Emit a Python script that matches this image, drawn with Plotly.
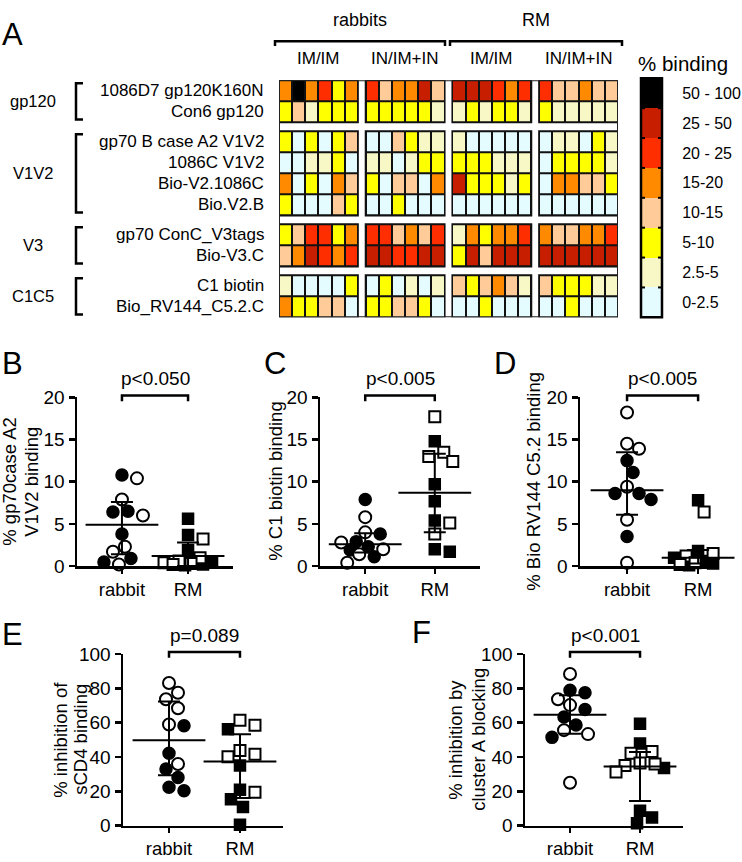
import plotly.graph_objects as go

W, H = 742, 862
FONT = "Liberation Sans, Arial, sans-serif"

# ---------------- DATA ----------------
row_labels = ["1086D7 gp120K160N", "Con6 gp120", "gp70 B case A2 V1V2", "1086C V1V2",
              "Bio-V2.1086C", "Bio.V2.B", "gp70 ConC_V3tags", "Bio-V3.C",
              "C1 biotin", "Bio_RV144_C5.2.C"]
row_groups = ["gp120", "V1V2", "V3", "C1C5"]
row_group_sizes = [2, 4, 2, 2]
species_labels = ["rabbits", "RM"]
regimen_labels = ["IM/IM", "IN/IM+IN", "IM/IM", "IN/IM+IN"]
bin_labels = ["0-2.5", "2.5-5", "5-10", "10-15", "15-20", "20 - 25", "25 - 50", "50 - 100"]
bin_colors = ["#E4FBFF", "#F8F8C6", "#FFFF00", "#FFCC99", "#FF8A00", "#FF2E00", "#C81E00", "#000000"]

# binding category (index into bin_labels) per row; 4 groups x 6 animals
binding_cat = [
    [4, 7, 4, 5, 2, 4,  5, 3, 4, 4, 6, 3,  6, 6, 6, 5, 4, 5,  5, 3, 3, 4, 3, 3],
    [2, 3, 1, 2, 2, 2,  2, 2, 2, 2, 2, 1,  1, 2, 1, 2, 2, 1,  2, 1, 1, 1, 1, 1],
    [2, 0, 2, 0, 2, 3,  0, 0, 3, 2, 1, 1,  1, 0, 0, 0, 0, 0,  0, 1, 1, 0, 2, 1],
    [0, 0, 1, 1, 2, 0,  1, 1, 0, 1, 2, 2,  2, 2, 2, 1, 1, 1,  0, 2, 2, 2, 2, 1],
    [4, 0, 2, 0, 4, 3,  2, 0, 3, 3, 0, 4,  6, 2, 2, 2, 1, 2,  0, 4, 4, 3, 3, 2],
    [2, 0, 0, 0, 3, 2,  0, 0, 2, 0, 0, 0,  0, 0, 0, 0, 0, 0,  0, 0, 0, 0, 0, 0],
    [2, 3, 5, 5, 2, 4,  5, 5, 3, 4, 3, 5,  1, 4, 2, 4, 4, 5,  4, 3, 3, 4, 4, 5],
    [3, 4, 6, 5, 4, 5,  6, 6, 5, 5, 6, 6,  2, 6, 3, 6, 6, 6,  6, 6, 6, 6, 6, 6],
    [1, 0, 0, 0, 0, 2,  0, 2, 0, 1, 0, 1,  3, 2, 3, 4, 3, 1,  3, 2, 2, 2, 1, 1],
    [4, 2, 2, 3, 3, 0,  2, 2, 3, 3, 2, 0,  0, 0, 2, 0, 0, 0,  0, 0, 2, 0, 0, 0],
]

group_names = ["rabbit", "RM"]

# Panel B: % gp70case A2 V1V2 binding
B_rabbit_filled = [10.8, 6.5, 6.4, 3.8, 0.9, 0.5]
B_rabbit_open = [10.4, 7.9, 6.0, 2.3, 1.7, 0.2]
B_RM_filled = [5.6, 3.7, 1.9, 0.4, 0.2, 0.1]
B_RM_open = [3.2, 1.0, 0.6, 0.4, 0.3, 0.2]
B_center = [4.9, 1.2]
B_upper = [7.6, 2.8]
B_lower = [1.4, 0.0]

# Panel C: % C1 biotin binding
C_rabbit_filled = [7.9, 3.8, 2.9, 2.3, 1.9, 1.1]
C_rabbit_open = [5.8, 4.0, 2.8, 2.0, 1.4, 0.4]
C_RM_filled = [14.8, 9.7, 7.7, 5.4, 2.0, 1.7]
C_RM_open = [17.7, 13.5, 13.0, 12.4, 5.1, 3.8]
C_center = [2.6, 8.7]
C_upper = [3.9, 13.3]
C_lower = [1.6, 4.0]

# Panel D: % Bio RV144 C5.2 binding
D_rabbit_filled = [12.5, 11.1, 8.6, 8.6, 7.9, 3.5]
D_rabbit_open = [18.2, 14.5, 13.9, 9.4, 5.5, 0.4]
D_RM_filled = [7.8, 1.8, 1.0, 0.6, 0.3, 0.1]
D_RM_open = [6.4, 1.5, 1.2, 0.8, 0.4, 0.2]
D_center = [9.0, 1.0]
D_upper = [13.5, 1.9]
D_lower = [6.1, 0.3]

# Panel E: % inhibition of sCD4 binding
E_rabbit_filled = [58.2, 42.1, 33.0, 28.0, 22.4, 20.3]
E_rabbit_open = [83.1, 77.4, 73.6, 68.4, 58.9, 35.9]
E_RM_filled = [56.2, 35.0, 20.9, 15.3, 10.9, 0.5]
E_RM_open = [61.3, 58.5, 43.8, 41.6, 40.1, 19.4]
E_center = [49.7, 37.4]
E_upper = [72.3, 53.2]
E_lower = [29.4, 16.1]

# Panel F: % inhibition by cluster A blocking
F_rabbit_filled = [78.9, 77.4, 67.6, 63.3, 58.6, 51.4]
F_rabbit_open = [88.3, 73.6, 70.2, 55.6, 53.3, 25.0]
F_RM_filled = [59.3, 47.8, 33.5, 8.6, 4.8, 1.4]
F_RM_open = [43.1, 42.1, 36.5, 35.9, 35.0, 31.2]
F_center = [64.6, 34.5]
F_upper = [75.9, 42.9]
F_lower = [53.5, 14.3]

# ---------------- HELPERS ----------------
def px_x(p):
    return p / W

def px_y(p):
    return 1 - p / H

def dom_x(a, b):
    return [a / W, b / W]

def dom_y(top, bottom):
    return [1 - bottom / H, 1 - top / H]

fig = go.Figure()
shapes = []
annotations = []

def add_text(text, x, y, size, xanchor="center", yanchor="middle", xref="paper", yref="paper", angle=0):
    annotations.append(dict(text=text, xref=xref, yref=yref, x=x, y=y, xanchor=xanchor,
                            yanchor=yanchor, showarrow=False, textangle=angle,
                            font=dict(size=size, family=FONT, color="black")))

# ---------------- HEATMAP (panel A) ----------------
CELL, XGAP_U, YGAP_U = 1.0, 0.6, 0.42
ncol_groups = 4
x_edges = [0.0]
z_cols = []
for g in range(ncol_groups):
    for c in range(6):
        x_edges.append(x_edges[-1] + CELL)
        z_cols.append(g * 6 + c)
    if g < ncol_groups - 1:
        x_edges.append(x_edges[-1] + XGAP_U)
        z_cols.append(None)
y_edges = [0.0]
z_rows = []
r = 0
for gi, n in enumerate(row_group_sizes):
    for _ in range(n):
        y_edges.append(y_edges[-1] + CELL)
        z_rows.append(r)
        r += 1
    if gi < len(row_group_sizes) - 1:
        y_edges.append(y_edges[-1] + YGAP_U)
        z_rows.append(None)

z = []
for rr in z_rows:
    row = []
    for cc in z_cols:
        row.append(None if (rr is None or cc is None) else binding_cat[rr][cc])
    z.append(row)

nb = len(bin_colors)
colorscale = []
for i, c in enumerate(bin_colors):
    colorscale.append([i / nb, c])
    colorscale.append([(i + 1) / nb, c])

HM_L, HM_R, HM_T, HM_B = 279, 618, 72, 315

fig.add_trace(go.Heatmap(
    z=z, x=x_edges, y=y_edges, xaxis="x", yaxis="y",
    colorscale=colorscale, zmin=-0.5, zmax=nb - 0.5, xgap=2, ygap=2,
    hoverinfo="skip", showscale=False))

col_block_edges = []
for g in range(ncol_groups):
    i0 = g * 7
    col_block_edges.append((x_edges[i0], x_edges[i0 + 6]))
row_block_edges = []
idx = 0
for n in row_group_sizes:
    row_block_edges.append((y_edges[idx], y_edges[idx + n]))
    idx += n + 1
for (xa, xb) in col_block_edges:
    for (ya, yb) in row_block_edges:
        shapes.append(dict(type="rect", xref="x", yref="y", x0=xa, x1=xb, y0=ya, y1=yb,
                           fillcolor="#111111", line=dict(color="#111111", width=2), layer="below"))
shapes.append(dict(type="rect", xref="x", yref="y", x0=x_edges[0], x1=x_edges[-1],
                   y0=y_edges[0], y1=y_edges[-1], line=dict(color="#222222", width=2),
                   fillcolor="rgba(0,0,0,0)", layer="below"))

for i, lab in enumerate(row_labels):
    yi = z_rows.index(i)
    yc = (y_edges[yi] + y_edges[yi + 1]) / 2
    add_text(lab, px_x(266), yc, 17, xanchor="right", yref="y")
for gi, name in enumerate(row_groups):
    ya, yb = row_block_edges[gi]
    add_text(name, px_x(33), (ya + yb) / 2, 16.5, yref="y")
    inset = 0.14
    shapes.append(dict(type="path", xref="paper", yref="y",
                       path=f"M {px_x(83)},{ya + inset} L {px_x(76)},{ya + inset} L {px_x(76)},{yb - inset} L {px_x(83)},{yb - inset}",
                       line=dict(color="black", width=2.5)))

for g, lab in enumerate(regimen_labels):
    xa, xb = col_block_edges[g]
    add_text(lab, (xa + xb) / 2, px_y(50), 17, xref="x")
sp_ranges = [(275, 445), (450, 622)]
for lab, (a, b) in zip(species_labels, sp_ranges):
    add_text(lab, px_x((a + b) / 2), px_y(10), 18)
    shapes.append(dict(type="path", xref="paper", yref="paper",
                       path=f"M {px_x(a)},{px_y(37)} L {px_x(a)},{px_y(32)} L {px_x(b)},{px_y(32)} L {px_x(b)},{px_y(37)}",
                       line=dict(color="black", width=2.5)))

# ---- legend bar (drawn as its own small heatmap) ----
CB_L, CB_R, CB_T, CB_B = 641, 662, 70, 315
fig.add_trace(go.Heatmap(
    z=[[i] for i in range(nb)], x=[0], y=list(range(nb)), xaxis="x7", yaxis="y7",
    colorscale=colorscale, zmin=-0.5, zmax=nb - 0.5, showscale=False, hoverinfo="skip"))
shapes.append(dict(type="rect", xref="paper", yref="paper", x0=px_x(CB_L), x1=px_x(CB_R),
                   y0=px_y(CB_B), y1=px_y(CB_T), line=dict(color="black", width=2.5),
                   fillcolor="rgba(0,0,0,0)"))
for k in range(1, nb):
    yb = CB_T + k * (CB_B - CB_T) / nb
    for (a, b) in [(CB_L, CB_L + 4), (CB_R - 4, CB_R)]:
        shapes.append(dict(type="line", xref="paper", yref="paper", x0=px_x(a), x1=px_x(b),
                           y0=px_y(yb), y1=px_y(yb), line=dict(color="black", width=2)))
add_text("% binding", px_x(636), px_y(55), 20.5, xanchor="left")
add_text("A", 0, px_y(25), 31, xanchor="left")

# ---------------- SCATTER PANELS ----------------
def swarm(values, ppu_x, ppu_y, diam=13.0, step=3.0, maxoff=24.0):
    """Deterministic beeswarm: spread points sideways so markers do not collide."""
    placed = []
    offs = [0.0] * len(values)
    order = sorted(range(len(values)), key=lambda i: -values[i])
    cands = [0.0]
    j = 1
    while j * step <= maxoff:
        cands += [j * step, -j * step]
        j += 1
    for i in order:
        yv = values[i] * ppu_y
        best, best_d = None, -1.0
        for c in cands:
            d = min([((c - px) ** 2 + (yv - py) ** 2) ** 0.5 for px, py in placed] or [1e9])
            if d >= diam:
                best = c
                break
            if d > best_d:
                best, best_d = c, d
        placed.append((best, yv))
        offs[i] = best / ppu_x
    return offs

panels = [
    dict(letter="B", ax="2", xpx=(77, 233), xr=(-0.68, 1.68), ypx=(397, 570), yr=(0, 20), yt=[0, 5, 10, 15, 20],
         data=[(B_rabbit_filled, B_rabbit_open), (B_RM_filled, B_RM_open)],
         center=B_center, upper=B_upper, lower=B_lower, p="p<0.050",
         ytitle=["% gp70case A2", "V1V2 binding"], ytx=[10, 32], lx=0, ly=362),
    dict(letter="C", ax="3", xpx=(320, 480), xr=(-0.65, 1.65), ypx=(397, 570), yr=(0, 20), yt=[0, 5, 10, 15, 20],
         data=[(C_rabbit_filled, C_rabbit_open), (C_RM_filled, C_RM_open)],
         center=C_center, upper=C_upper, lower=C_lower, p="p<0.005",
         ytitle=["% C1 biotin binding"], ytx=[276], lx=262, ly=362),
    dict(letter="D", ax="4", xpx=(580, 718), xr=(-0.662, 1.28), ypx=(397, 570), yr=(0, 20), yt=[0, 5, 10, 15, 20],
         data=[(D_rabbit_filled, D_rabbit_open), (D_RM_filled, D_RM_open)],
         center=D_center, upper=D_upper, lower=D_lower, p="p<0.005",
         ytitle=["% Bio RV144 C5.2 binding"], ytx=[534], lx=492, ly=362),
    dict(letter="E", ax="5", xpx=(123, 283), xr=(-0.648, 1.606), ypx=(660, 836), yr=(0, 100), yt=[0, 20, 40, 60, 80, 100],
         data=[(E_rabbit_filled, E_rabbit_open), (E_RM_filled, E_RM_open)],
         center=E_center, upper=E_upper, lower=E_lower, p="p=0.089",
         ytitle=["% inhibition of", "sCD4 binding"], ytx=[61, 81], lx=0, ly=640),
    dict(letter="F", ax="6", xpx=(525, 683), xr=(-0.643, 1.614), ypx=(660, 836), yr=(0, 100), yt=[0, 20, 40, 60, 80, 100],
         data=[(F_rabbit_filled, F_rabbit_open), (F_RM_filled, F_RM_open)],
         center=F_center, upper=F_upper, lower=F_lower, p="p<0.001",
         ytitle=["% inhibition by", "cluster A blocking"], ytx=[456, 479], lx=410, ly=638),
]

layout_axes = {}
for P in panels:
    ax = P["ax"]
    xa, ya = "x" + ax, "y" + ax
    x0p, x1p = P["xpx"]
    ytop, ybot = P["ypx"]
    ppu_x = (x1p - x0p) / (P["xr"][1] - P["xr"][0])
    ppu_y = (ybot - ytop) / (P["yr"][1] - P["yr"][0])
    for gi, (filled, opened) in enumerate(P["data"]):
        vals = list(filled) + list(opened)
        offs = swarm(vals, ppu_x, ppu_y)
        nf = len(filled)
        sym = "circle" if gi == 0 else "square"
        size = 12 if gi == 0 else 11
        fig.add_trace(go.Scatter(
            x=[gi + o for o in offs[:nf]], y=filled, xaxis=xa, yaxis=ya, mode="markers",
            marker=dict(symbol=sym, size=size, color="black", line=dict(color="black", width=1.5)),
            cliponaxis=False, hoverinfo="skip", showlegend=False))
        fig.add_trace(go.Scatter(
            x=[gi + o for o in offs[nf:]], y=opened, xaxis=xa, yaxis=ya, mode="markers",
            marker=dict(symbol=sym, size=size, color="white", line=dict(color="black", width=2)),
            cliponaxis=False, hoverinfo="skip", showlegend=False))
    fig.add_trace(go.Scatter(
        x=[0, 1], y=P["center"], xaxis=xa, yaxis=ya, mode="markers",
        marker=dict(symbol="line-ew", size=52, color="black", line=dict(color="black", width=2)),
        error_y=dict(type="data", symmetric=False,
                     array=[u - c for u, c in zip(P["upper"], P["center"])],
                     arrayminus=[c - l for c, l in zip(P["center"], P["lower"])],
                     width=11, thickness=2, color="black"),
        cliponaxis=False, hoverinfo="skip", showlegend=False))

    layout_axes["xaxis" + ax] = dict(domain=dom_x(x0p, x1p), range=list(P["xr"]), anchor=ya,
                                     tickvals=[0, 1], ticktext=group_names, showline=True,
                                     linewidth=2.5, linecolor="black", ticks="outside", ticklen=5,
                                     tickwidth=2.5, tickcolor="black", showgrid=False, zeroline=False,
                                     tickfont=dict(size=18.5, family=FONT, color="black"))
    layout_axes["yaxis" + ax] = dict(domain=dom_y(ytop, ybot), range=list(P["yr"]), anchor=xa,
                                     tickvals=P["yt"], showline=True, linewidth=2.5, linecolor="black",
                                     ticks="outside", ticklen=6, tickwidth=2.5, tickcolor="black",
                                     showgrid=False, zeroline=False,
                                     tickfont=dict(size=19, family=FONT, color="black"))
    brk_y = ytop - 2
    shapes.append(dict(type="path", xref=xa, yref="paper",
                       path=f"M 0,{px_y(brk_y + 6)} L 0,{px_y(brk_y)} L 1,{px_y(brk_y)} L 1,{px_y(brk_y + 6)}",
                       line=dict(color="black", width=2.5)))
    add_text(P["p"], 0.5, px_y(brk_y - 17), 19, xref=xa)
    for t, tx in zip(P["ytitle"], P["ytx"]):
        add_text(t, px_x(tx), px_y((ytop + ybot) / 2), 18.5, angle=-90)
    add_text(P["letter"], px_x(P["lx"]), px_y(P["ly"]), 31, xanchor="left")

fig.update_layout(
    width=W, height=H, margin=dict(l=0, r=0, t=0, b=0),
    paper_bgcolor="white", plot_bgcolor="white", showlegend=False,
    font=dict(family=FONT, color="black"),
    xaxis=dict(domain=dom_x(HM_L, HM_R), range=[x_edges[0], x_edges[-1]], visible=False, anchor="y"),
    yaxis=dict(domain=dom_y(HM_T, HM_B), range=[y_edges[-1], y_edges[0]], visible=False, anchor="x"),
    xaxis7=dict(domain=dom_x(CB_L, CB_R), range=[-0.5, 0.5], visible=False, anchor="y7"),
    yaxis7=dict(domain=dom_y(CB_T, CB_B), range=[-0.5, nb - 0.5], anchor="x7", side="right",
                tickvals=list(range(nb)), ticktext=bin_labels, ticks="outside", ticklen=16,
                tickcolor="rgba(0,0,0,0)", showline=False, showgrid=False, zeroline=False,
                tickfont=dict(size=16, family=FONT, color="black")),
    shapes=shapes, annotations=annotations,
    **layout_axes,
)

# remove the default page margin so the 742x862 figure fills the window exactly
fig.write_html("out.html",
               config={"displayModeBar": False, "staticPlot": True},
               post_script="document.body.style.margin='0';document.body.style.overflow='hidden';")
